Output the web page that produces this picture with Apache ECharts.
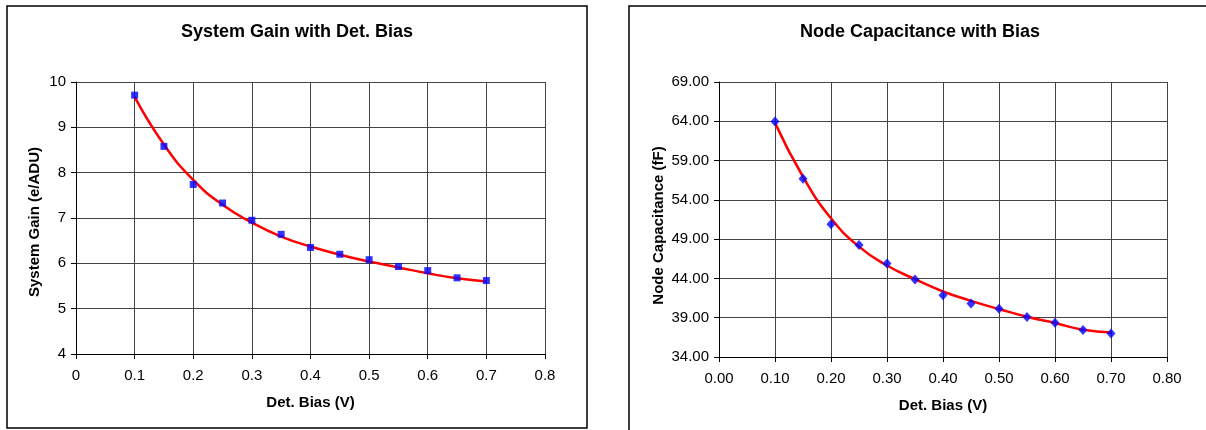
<!DOCTYPE html>
<html>
<head>
<meta charset="utf-8">
<script src="https://cdn.jsdelivr.net/npm/echarts@6/dist/echarts.min.js"></script>
<style>
  html, body { margin: 0; padding: 0; background: #fff; }
  #chart { width: 1206px; height: 430px; }
</style>
</head>
<body>
<div id="chart"></div>
<script>
// bias steps (V)
const bias = [0.1, 0.15, 0.2, 0.25, 0.3, 0.35, 0.4, 0.45, 0.5, 0.55, 0.6, 0.65, 0.7];

// system gain, measured points and fitted curve (e/ADU)
const gainPoints = [9.71, 8.58, 7.74, 7.33, 6.95, 6.64, 6.35, 6.20, 6.08, 5.93, 5.84, 5.68, 5.62];
const gainFit = [9.67, 8.62, 7.84, 7.29, 6.90, 6.59, 6.37, 6.19, 6.04, 5.91, 5.78, 5.67, 5.60];

// node capacitance, measured points and fitted curve (fF)
const capPoints = [63.96, 56.69, 50.89, 48.26, 45.89, 43.86, 41.87, 40.81, 40.14, 39.08, 38.36, 37.43, 37.00];
const capFit = [63.8, 56.94, 51.65, 48.05, 45.64, 43.9, 42.34, 41.15, 40.1, 39.12, 38.32, 37.47, 37.13];

const FONT = 'Liberation Sans, Arial, sans-serif';

const pairs = (xs, ys) => xs.map((x, i) => [x, ys[i]]);

const chart = echarts.init(document.getElementById('chart'));

const axisCommon = {
  type: 'value',
  axisLine: { show: true, onZero: false, lineStyle: { color: '#000', width: 1 } },
  axisTick: { show: true, inside: false, length: 5, lineStyle: { color: '#000' } },
  splitLine: { show: true, lineStyle: { color: '#444', width: 1 } },
  axisLabel: { color: '#000', fontFamily: FONT, fontSize: 15 },
  nameLocation: 'middle',
  nameTextStyle: { color: '#000', fontFamily: FONT, fontSize: 15, fontWeight: 'bold' }
};

chart.setOption({
  animation: false,
  title: [
    {
      text: 'System Gain with Det. Bias',
      left: 297, top: 23, textAlign: 'center', padding: 0,
      textStyle: { fontFamily: FONT, fontSize: 18, fontWeight: 'bold', color: '#000' }
    },
    {
      text: 'Node Capacitance with Bias',
      left: 920, top: 23, textAlign: 'center', padding: 0,
      textStyle: { fontFamily: FONT, fontSize: 18, fontWeight: 'bold', color: '#000' }
    }
  ],
  graphic: [
    { type: 'rect', shape: { x: 7, y: 6, width: 580, height: 422 }, style: { fill: 'none', stroke: '#000', lineWidth: 1.5 }, silent: true },
    { type: 'rect', shape: { x: 629, y: 6, width: 700, height: 500 }, style: { fill: 'none', stroke: '#000', lineWidth: 1.5 }, silent: true }
  ],
  grid: [
    { left: 76, top: 82, width: 469, height: 272 },
    { left: 719, top: 82, width: 448, height: 275 }
  ],
  xAxis: [
    Object.assign({}, axisCommon, {
      gridIndex: 0, min: 0, max: 0.8, interval: 0.1,
      name: 'Det. Bias (V)', nameGap: 41,
      axisLabel: Object.assign({}, axisCommon.axisLabel, { margin: 14 })
    }),
    Object.assign({}, axisCommon, {
      gridIndex: 1, min: 0, max: 0.8, interval: 0.1,
      name: 'Det. Bias (V)', nameGap: 41,
      axisLabel: Object.assign({}, axisCommon.axisLabel, { margin: 14, formatter: v => v.toFixed(2) })
    })
  ],
  yAxis: [
    Object.assign({}, axisCommon, {
      gridIndex: 0, min: 4, max: 10, interval: 1,
      name: 'System Gain (e/ADU)', nameGap: 34,
      nameTextStyle: Object.assign({}, axisCommon.nameTextStyle, { padding: [0, 8, 0, 0] }),
      axisLabel: Object.assign({}, axisCommon.axisLabel, { margin: 10 })
    }),
    Object.assign({}, axisCommon, {
      gridIndex: 1, min: 34, max: 69, interval: 5,
      name: 'Node Capacitance (fF)', nameGap: 53,
      nameTextStyle: Object.assign({}, axisCommon.nameTextStyle, { padding: [0, 12, 0, 0] }),
      axisLabel: Object.assign({}, axisCommon.axisLabel, { margin: 10, formatter: v => v.toFixed(2) })
    })
  ],
  series: [
    {
      name: 'Gain fit', type: 'line', xAxisIndex: 0, yAxisIndex: 0,
      data: pairs(bias, gainFit), smooth: true, showSymbol: false, z: 2,
      lineStyle: { color: '#ff0000', width: 2.5 }
    },
    {
      name: 'Gain', type: 'scatter', xAxisIndex: 0, yAxisIndex: 0,
      data: pairs(bias, gainPoints), symbol: 'rect', symbolSize: 7, z: 3,
      itemStyle: { color: '#0000ff' }
    },
    {
      name: 'Cap fit', type: 'line', xAxisIndex: 1, yAxisIndex: 1,
      data: pairs(bias, capFit), smooth: true, showSymbol: false, z: 2,
      lineStyle: { color: '#ff0000', width: 2.5 }
    },
    {
      name: 'Capacitance', type: 'scatter', xAxisIndex: 1, yAxisIndex: 1,
      data: pairs(bias, capPoints), symbol: 'diamond', symbolSize: [9, 10], z: 3,
      itemStyle: { color: '#0000ff' }
    }
  ]
});
</script>
</body>
</html>
